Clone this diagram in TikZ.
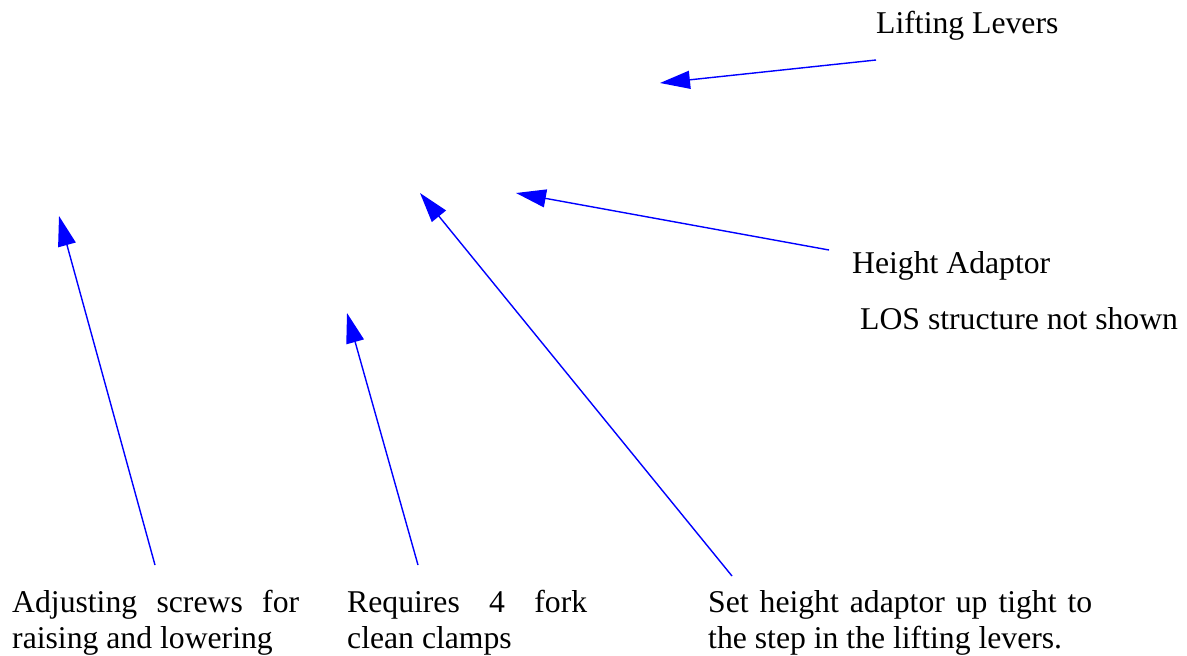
\documentclass[tikz,border=0pt]{standalone}
\usepackage{fontspec}
\setmainfont{Liberation Serif}
\usetikzlibrary{arrows.meta}
\begin{document}
\begin{tikzpicture}[x=1pt,y=-1pt,
  lbl/.style={inner sep=0pt,anchor=base west,font=\fontsize{31.7}{36}\selectfont},
  para/.style={inner sep=0pt,anchor=north west,align=justify,font=\fontsize{31.7}{36}\selectfont},
  ptr/.style={draw=blue,line width=1.4pt,-{Triangle[length=30pt,width=18pt]},fill=blue}]
\useasboundingbox (0,0) rectangle (1187,656);
\node[lbl] (lift) at (876,33) {Lifting Levers};
\node[lbl] (hadapt) at (852,273) {Height Adaptor};
\node[lbl] (los) at (860,329) {LOS structure not shown};
\node[para,text width=287pt] (adj) at (12,590) {Adjusting screws for raising and lowering};
\node[para,text width=240pt] (req) at (347,590) {Requires 4 fork clean clamps};
\node[para,text width=384pt] (set) at (708,590) {Set height adaptor up tight to the step in the lifting levers.};
\coordinate (liftS) at (876,60);
\coordinate (liftT) at (660,83);
\coordinate (hadS) at (829,250);
\coordinate (hadT) at (516,193);
\coordinate (setS) at (732,576);
\coordinate (setT) at (420,193);
\coordinate (adjS) at (155,565);
\coordinate (adjT) at (59,216);
\coordinate (reqS) at (418,565);
\coordinate (reqT) at (347,313);
\draw[ptr] (liftS) -- (liftT);
\draw[ptr] (hadS) -- (hadT);
\draw[ptr] (setS) -- (setT);
\draw[ptr] (adjS) -- (adjT);
\draw[ptr] (reqS) -- (reqT);
\end{tikzpicture}
\end{document}
